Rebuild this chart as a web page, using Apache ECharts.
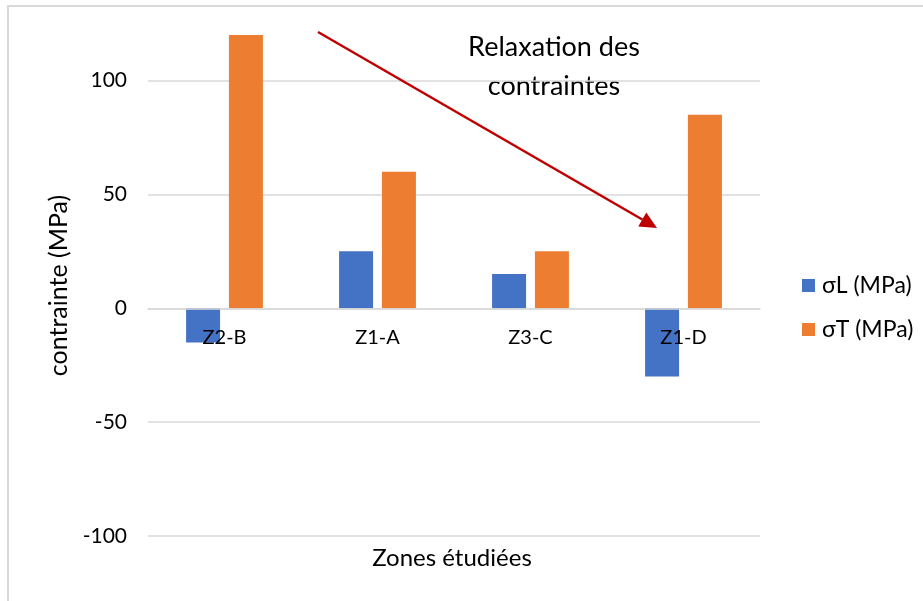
<!DOCTYPE html>
<html>
<head>
<meta charset="utf-8">
<script src="https://cdn.jsdelivr.net/npm/echarts@6/dist/echarts.min.js"></script>
<style>
  html, body { margin: 0; padding: 0; background: #ffffff; }
  #chart { width: 923px; height: 601px; }
</style>
</head>
<body>
<div id="chart"></div>
<script>
// Zones and measured stresses (MPa)
const categories = ['Z2-B', 'Z1-A', 'Z3-C', 'Z1-D'];
const sigmaL = [-15, 25, 15, -30];
const sigmaT = [120, 60, 25, 85];
const seriesNames = ['σL (MPa)', 'σT (MPa)'];

// Value axis range
const yMin = -100;
const yMax = 120;
const yStep = 50;

const FONT = 'Lato, "Open Sans", sans-serif';
const GRID_GRAY = '#d9d9d9';

const chart = echarts.init(document.getElementById('chart'), null, { renderer: 'canvas' });

// Arrow geometry for the "relaxation" annotation
const arrowStart = [318, 32];
const arrowTip = [657, 228];
function arrowShapes(p0, p1, headLen, headHalf) {
  const dx = p1[0] - p0[0], dy = p1[1] - p0[1];
  const len = Math.hypot(dx, dy);
  const ux = dx / len, uy = dy / len;
  const bx = p1[0] - ux * headLen, by = p1[1] - uy * headLen;
  const px = -uy, py = ux;
  return {
    line: { x1: p0[0], y1: p0[1], x2: bx, y2: by },
    head: [[p1[0], p1[1]], [bx + px * headHalf, by + py * headHalf], [bx - px * headHalf, by - py * headHalf]]
  };
}
const arrow = arrowShapes(arrowStart, arrowTip, 17, 8);

const option = {
  backgroundColor: '#ffffff',
  animation: false,
  textStyle: { fontFamily: FONT },
  grid: { left: 148, right: 163, top: 35, bottom: 65, containLabel: false },
  legend: {
    orient: 'vertical',
    left: 802,
    top: 274,
    padding: 0,
    itemWidth: 13,
    itemHeight: 13,
    itemGap: 21,
    icon: 'rect',
    textStyle: { fontFamily: FONT, fontSize: 23, color: '#000000', padding: [0, 0, 0, 2], lineHeight: 22 },
    data: seriesNames
  },
  xAxis: {
    type: 'category',
    data: categories,
    position: 'bottom',
    offset: 0,
    z: 5,
    axisLine: { show: true, onZero: false, lineStyle: { color: GRID_GRAY, width: 1.5 } },
    axisTick: { show: false },
    axisLabel: { color: '#000000', fontFamily: FONT, fontSize: 20, margin: 19 },
    splitLine: { show: false }
  },
  yAxis: {
    type: 'value',
    min: yMin,
    max: yMax,
    interval: yStep,
    name: 'contrainte (MPa)',
    nameLocation: 'middle',
    nameGap: 73,
    nameTextStyle: { fontFamily: FONT, fontSize: 25, color: '#000000' },
    axisLine: { show: false },
    axisTick: { show: false },
    axisLabel: { color: '#000000', fontFamily: FONT, fontSize: 21, margin: 21, showMaxLabel: false },
    splitLine: { show: true, showMaxLine: false, lineStyle: { color: GRID_GRAY, width: 1.5 } }
  },
  series: [
    {
      name: seriesNames[0],
      type: 'bar',
      data: sigmaL,
      barWidth: 34,
      barGap: '26%',
      itemStyle: { color: '#4472C4' }
    },
    {
      name: seriesNames[1],
      type: 'bar',
      data: sigmaT,
      barWidth: 34,
      barGap: '26%',
      itemStyle: { color: '#ED7D31' }
    }
  ],
  graphic: [
    {
      type: 'rect',
      shape: { x: 8, y: 6, width: 1000, height: 700 },
      style: { fill: 'none', stroke: GRID_GRAY, lineWidth: 2 },
      silent: true
    },
    {
      type: 'text',
      x: 452,
      y: 558,
      style: {
        text: 'Zones étudiées',
        font: '24px ' + FONT,
        fill: '#000000',
        textAlign: 'center',
        textVerticalAlign: 'middle'
      }
    },
    {
      type: 'text',
      x: 554,
      y: 67,
      style: {
        text: 'Relaxation des\ncontraintes',
        font: '27px ' + FONT,
        lineHeight: 39,
        fill: '#000000',
        textAlign: 'center',
        textVerticalAlign: 'middle'
      }
    },
    {
      type: 'line',
      shape: arrow.line,
      style: { stroke: '#C00000', lineWidth: 2.5 },
      z: 10
    },
    {
      type: 'polygon',
      shape: { points: arrow.head },
      style: { fill: '#C00000' },
      z: 10
    }
  ]
};

chart.setOption(option);

// Lift the category axis (line and labels) onto the value-axis zero
const zeroY = chart.convertToPixel({ yAxisIndex: 0 }, 0);
const bottomY = chart.convertToPixel({ yAxisIndex: 0 }, yMin);
chart.setOption({ xAxis: { offset: -(bottomY - zeroY) } });
</script>
</body>
</html>
